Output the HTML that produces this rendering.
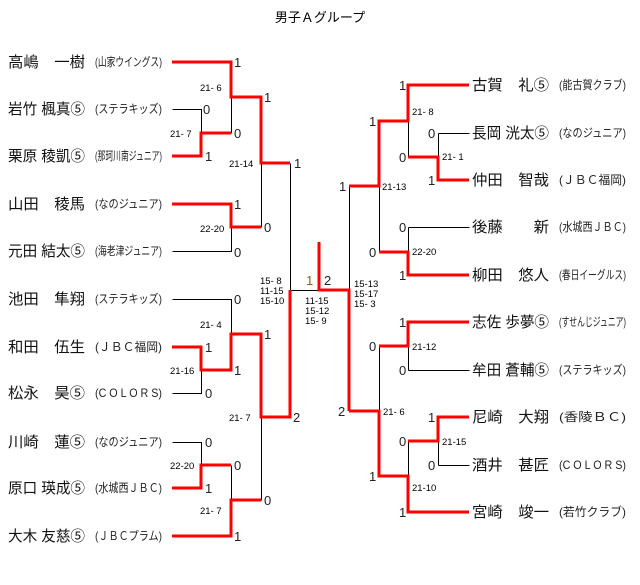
<!DOCTYPE html>
<html><head><meta charset="utf-8"><style>
html,body{margin:0;padding:0;background:#fff;}
svg{display:block;font-family:"Liberation Sans","Noto Sans CJK JP",sans-serif;}
.n{font-size:15px;fill:#111;}
.t{font-size:12px;fill:#222;}
.s{font-size:13px;fill:#222;}
.m{font-size:9.5px;fill:#000;}
.k{stroke:#000;stroke-width:1;fill:none;}
.r{stroke:#f00;stroke-width:3;fill:none;}
</style></head><body>
<svg width="640" height="585" viewBox="0 0 640 585">
<text x="320" y="22" text-anchor="middle" style="font-size:13px">男子Ａグループ</text>

<g class="n">
<text x="8" y="67" textLength="77" lengthAdjust="spacingAndGlyphs">高嶋　一樹</text>
<text x="8" y="114" textLength="77" lengthAdjust="spacingAndGlyphs">岩竹 楓真⑤</text>
<text x="8" y="161" textLength="77" lengthAdjust="spacingAndGlyphs">栗原 稜凱⑤</text>
<text x="8" y="209" textLength="77" lengthAdjust="spacingAndGlyphs">山田　稜馬</text>
<text x="8" y="256" textLength="77" lengthAdjust="spacingAndGlyphs">元田 結太⑤</text>
<text x="8" y="304" textLength="77" lengthAdjust="spacingAndGlyphs">池田　隼翔</text>
<text x="8" y="352" textLength="77" lengthAdjust="spacingAndGlyphs">和田　伍生</text>
<text x="8" y="398" textLength="77" lengthAdjust="spacingAndGlyphs">松永　昊⑤</text>
<text x="8" y="447" textLength="77" lengthAdjust="spacingAndGlyphs">川崎　蓮⑤</text>
<text x="8" y="493" textLength="77" lengthAdjust="spacingAndGlyphs">原口 瑛成⑤</text>
<text x="8" y="541" textLength="77" lengthAdjust="spacingAndGlyphs">大木 友慈⑤</text>
</g>
<g class="t">
<text x="95" y="66" textLength="67" lengthAdjust="spacingAndGlyphs">(山家ウイングス)</text>
<text x="95" y="113" textLength="67" lengthAdjust="spacingAndGlyphs">(ステラキッズ)</text>
<text x="95" y="160" textLength="67" lengthAdjust="spacingAndGlyphs">(那珂川南ジュニア)</text>
<text x="95" y="208" textLength="67" lengthAdjust="spacingAndGlyphs">(なのジュニア)</text>
<text x="95" y="255" textLength="67" lengthAdjust="spacingAndGlyphs">(海老津ジュニア)</text>
<text x="95" y="303" textLength="67" lengthAdjust="spacingAndGlyphs">(ステラキッズ)</text>
<text x="95" y="351" textLength="67" lengthAdjust="spacingAndGlyphs">(ＪＢＣ福岡)</text>
<text x="95" y="397" textLength="67" lengthAdjust="spacingAndGlyphs">(C O L O R S)</text>
<text x="95" y="446" textLength="67" lengthAdjust="spacingAndGlyphs">(なのジュニア)</text>
<text x="95" y="492" textLength="67" lengthAdjust="spacingAndGlyphs">(水城西ＪＢＣ)</text>
<text x="95" y="540" textLength="67" lengthAdjust="spacingAndGlyphs">(ＪＢＣプラム)</text>
</g>

<g class="n">
<text x="472" y="90" textLength="77" lengthAdjust="spacingAndGlyphs">古賀　礼⑤</text>
<text x="472" y="138" textLength="77" lengthAdjust="spacingAndGlyphs">長岡 洸太⑤</text>
<text x="472" y="185" textLength="77" lengthAdjust="spacingAndGlyphs">仲田　智哉</text>
<text x="472" y="232" textLength="77" lengthAdjust="spacingAndGlyphs">後藤　　新</text>
<text x="472" y="280" textLength="77" lengthAdjust="spacingAndGlyphs">柳田　悠人</text>
<text x="472" y="327" textLength="77" lengthAdjust="spacingAndGlyphs">志佐 歩夢⑤</text>
<text x="472" y="375" textLength="77" lengthAdjust="spacingAndGlyphs">牟田 蒼輔⑤</text>
<text x="472" y="422" textLength="77" lengthAdjust="spacingAndGlyphs">尼崎　大翔</text>
<text x="472" y="470" textLength="77" lengthAdjust="spacingAndGlyphs">酒井　甚匠</text>
<text x="472" y="517" textLength="77" lengthAdjust="spacingAndGlyphs">宮崎　竣一</text>
</g>
<g class="t">
<text x="559" y="89" textLength="67" lengthAdjust="spacingAndGlyphs">(能古賀クラブ)</text>
<text x="559" y="137" textLength="67" lengthAdjust="spacingAndGlyphs">(なのジュニア)</text>
<text x="559" y="184" textLength="67" lengthAdjust="spacingAndGlyphs">(ＪＢＣ福岡)</text>
<text x="559" y="231" textLength="67" lengthAdjust="spacingAndGlyphs">(水城西ＪＢＣ)</text>
<text x="559" y="279" textLength="67" lengthAdjust="spacingAndGlyphs">(春日イーグルス)</text>
<text x="559" y="326" textLength="67" lengthAdjust="spacingAndGlyphs">(すせんじジュニア)</text>
<text x="559" y="374" textLength="67" lengthAdjust="spacingAndGlyphs">(ステラキッズ)</text>
<text x="559" y="421" textLength="67" lengthAdjust="spacingAndGlyphs">(香陵ＢＣ)</text>
<text x="559" y="469" textLength="67" lengthAdjust="spacingAndGlyphs">(C O L O R S)</text>
<text x="559" y="516" textLength="67" lengthAdjust="spacingAndGlyphs">(若竹クラブ)</text>
</g>

<g transform="translate(0.5,0.5)">
<path class="k" d="
M172 109H201V133
M231 97V133
M261 163V227
M172 251H231V227
M290 163V290H319
M172 299H231V334
M172 393H201V370
M172 442H201V465
M231 465V500
M261 417V500
M438 133H469 M438 133V157
M408 121V157
M379 186V252
M408 227H469 M408 227V252
M349 186V290
M379 346V411
M408 370H469 M408 346V370
M438 465H469 M438 441V465
M408 441V476
"/>
</g>
<path class="r" d="
M172 62H231V97H261V163H290
M172 156H201V133H231
M172 204H231V227H261
M172 347H201V370H231V334H261V417H290V290
M172 488H201V465H231
M172 536H231V500H261
M319 242V290H349V411
M469 85H408V121H379V186H349
M469 180H438V157H408
M469 275H408V252H379
M469 322H408V346H379
M469 417H438V441H408
M469 512H408V476H379V411H349
"/>

<g class="s">
<text x="234" y="67">1</text><text x="264" y="102">1</text>
<text x="203" y="114">0</text><text x="234" y="138">0</text>
<text x="205" y="161">1</text><text x="294" y="168">1</text>
<text x="234" y="209">1</text><text x="264" y="232">0</text>
<text x="234" y="257">0</text>
<text x="234" y="304">0</text><text x="264" y="339">1</text>
<text x="205" y="352">1</text><text x="234" y="375">1</text>
<text x="205" y="398">0</text><text x="293" y="422">2</text>
<text x="205" y="447">0</text><text x="234" y="470">0</text>
<text x="205" y="493">1</text><text x="264" y="505">0</text>
<text x="234" y="541">1</text>
<text x="306" y="285" style="fill:#a0600a">1</text><text x="324" y="285">2</text>
<text x="399" y="90">1</text><text x="369" y="126">1</text>
<text x="428" y="138">0</text><text x="399" y="162">0</text>
<text x="428" y="185">1</text><text x="339" y="191">1</text>
<text x="399" y="232">0</text><text x="369" y="257">0</text>
<text x="399" y="280">1</text>
<text x="399" y="327">1</text><text x="369" y="351">0</text>
<text x="399" y="375">0</text><text x="338" y="416">2</text>
<text x="428" y="422">1</text><text x="399" y="446">0</text>
<text x="428" y="470">0</text><text x="369" y="481">1</text>
<text x="399" y="517">1</text>
</g>
<g class="m">
<text x="200" y="91">21- 6</text>
<text x="170" y="137">21- 7</text>
<text x="229" y="167">21-14</text>
<text x="200" y="232">22-20</text>
<text x="260" y="284">15- 8</text><text x="260" y="294">11-15</text><text x="260" y="304">15-10</text>
<text x="305" y="304">11-15</text><text x="305" y="314">15-12</text><text x="305" y="324">15- 9</text>
<text x="354" y="287">15-13</text><text x="354" y="297">15-17</text><text x="354" y="307">15- 3</text>
<text x="200" y="328">21- 4</text>
<text x="170" y="374">21-16</text>
<text x="229" y="421">21- 7</text>
<text x="170" y="469">22-20</text>
<text x="200" y="514">21- 7</text>
<text x="412" y="115">21- 8</text>
<text x="442" y="160">21- 1</text>
<text x="382" y="190">21-13</text>
<text x="412" y="255">22-20</text>
<text x="412" y="350">21-12</text>
<text x="383" y="415">21- 6</text>
<text x="442" y="445">21-15</text>
<text x="412" y="491">21-10</text>
</g>
</svg>
</body></html>
